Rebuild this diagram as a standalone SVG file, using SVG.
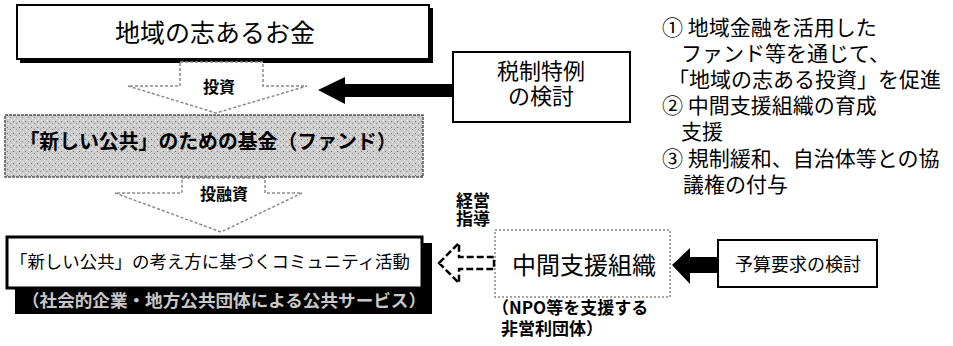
<svg xmlns="http://www.w3.org/2000/svg" width="953" height="346" viewBox="0 0 953 346">
<defs>
<pattern id="speckle" width="6" height="6" patternUnits="userSpaceOnUse">
<rect width="6" height="6" fill="#cdcdcd"/>
<rect x="1" y="1" width="1" height="1" fill="#6f6f6f"/>
<rect x="4" y="3" width="1" height="1" fill="#8a8a8a"/>
<rect x="2" y="4" width="1" height="1" fill="#ffffff"/>
<rect x="5" y="0" width="1" height="1" fill="#ffffff"/>
</pattern>
<style>
text{font-family:"Noto Sans CJK JP","Noto Sans CJK SC",sans-serif;fill:#000}
.box{fill:#fff;stroke:#000;stroke-width:2}
.blk{fill:#000}
.bold{font-weight:bold}
.mid{text-anchor:middle}
.note{font-size:21px}
.hollow{fill:#fff;stroke:#8a8a8a;stroke-width:1.5;stroke-dasharray:3 2}
</style>
</defs>

<g id="n-money">
<rect x="20" y="8" width="413" height="55" class="blk"/>
<rect x="17" y="5" width="412" height="54" class="box"/>
<text x="215" y="42" class="mid" font-size="25">地域の志あるお金</text>
</g>

<g id="n-tax">
<rect x="453" y="52" width="177" height="70" class="box"/>
<text class="mid" font-size="22"><tspan x="541" y="79">税制特例</tspan><tspan x="541" y="104">の検討</tspan></text>
</g>

<g id="n-fund">
<rect x="5" y="115" width="418" height="62" fill="url(#speckle)" stroke="#555" stroke-width="1.5" stroke-dasharray="3 1"/>
<text x="208" y="149" class="mid bold" font-size="20" textLength="377" lengthAdjust="spacingAndGlyphs">「新しい公共」のための基金（ファンド）</text>
</g>

<g id="n-community">
<rect x="15" y="243" width="417" height="71" class="blk"/>
<rect x="7" y="237" width="415" height="51" fill="#fff" stroke="#000" stroke-width="3"/>
<text x="210" y="268" class="mid" font-size="17.5" textLength="400" lengthAdjust="spacingAndGlyphs">「新しい公共」の考え方に基づくコミュニティ活動</text>
<text x="224" y="307" class="mid bold" font-size="17" style="fill:#c8c8c8" textLength="404" lengthAdjust="spacingAndGlyphs">（社会的企業・地方公共団体による公共サービス）</text>
</g>

<g id="n-intermediate">
<rect x="495" y="230" width="175" height="67" fill="#fff" stroke="#888" stroke-width="1.5" stroke-dasharray="2 2"/>
<text x="584" y="274" class="mid" font-size="24">中間支援組織</text>
<text class="bold" font-size="17"><tspan x="492" y="314">（NPO等を支援する</tspan><tspan x="501" y="335">非営利団体）</tspan></text>
</g>

<g id="n-budget">
<rect x="718" y="240" width="159" height="47" class="box"/>
<text x="798" y="271" class="mid" font-size="18">予算要求の検討</text>
</g>

<g id="notes">
<text class="note"><tspan x="662" y="35">① 地域金融を活用した</tspan><tspan x="681" y="61">ファンド等を通じて、</tspan><tspan x="668" y="87">「地域の志ある投資」を促進</tspan><tspan x="662" y="113">② 中間支援組織の育成</tspan><tspan x="681" y="139">支援</tspan><tspan x="662" y="166">③ 規制緩和、自治体等との協</tspan><tspan x="683" y="192">議権の付与</tspan></text>
</g>

<g id="connectors">
<polygon points="180,62 263,62 263,86 307,86 216,113 128,86 180,86" class="hollow"/>
<text x="219" y="93" class="mid bold" font-size="16">投資</text>
<polygon points="182,178 265,178 265,193 302,193 221,232 115,193 182,193" class="hollow"/>
<text x="224" y="200" class="mid bold" font-size="16">投融資</text>
<polygon points="318,90 345,77 345,84 453,84 453,97 345,97 345,104" class="blk"/>
<polygon points="672,265 690,248 690,257 718,257 718,273 690,273 690,284" class="blk"/>
<polygon points="439,263 459,243 459,257 494,257 494,269 459,269 459,283" fill="#fff" stroke="#000" stroke-width="2.5" stroke-dasharray="7 3"/>
<text class="bold" font-size="17"><tspan x="456" y="207">経営</tspan><tspan x="456" y="225">指導</tspan></text>
</g>
</svg>
